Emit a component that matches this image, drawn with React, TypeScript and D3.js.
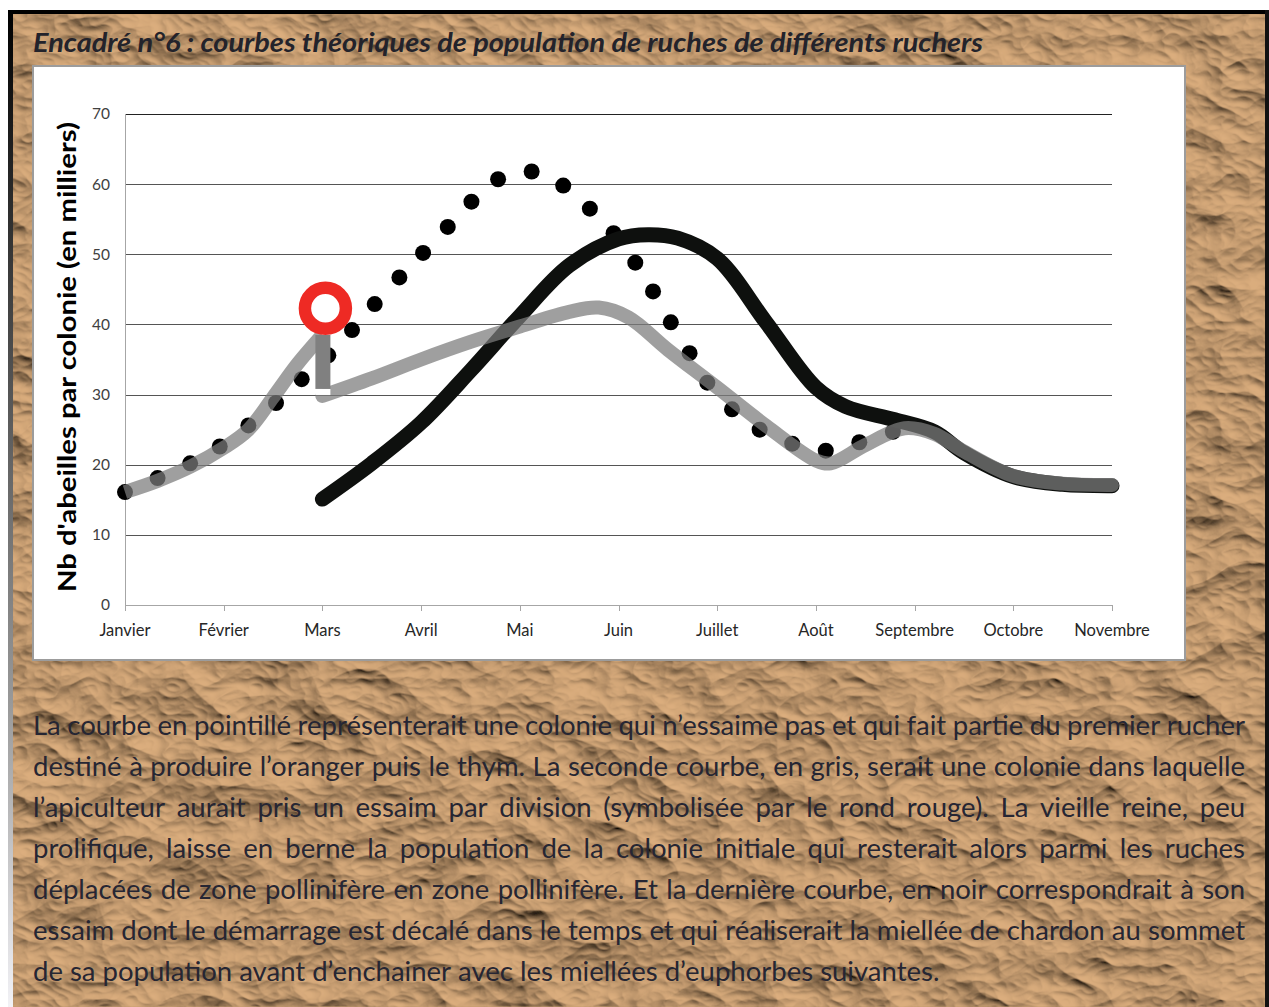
import React, { useMemo } from "react";
import * as d3 from "d3";

const months = ["Janvier", "Février", "Mars", "Avril", "Mai", "Juin", "Juillet", "Août", "Septembre", "Octobre", "Novembre"];
const yTicks = [0, 10, 20, 30, 40, 50, 60, 70];

// dotted series: colony that does not swarm (month index, thousands of bees)
const dottedSeries: [number, number][] = [
  [0.0, 16.1], [0.33, 18.1], [0.66, 20.2], [0.96, 22.6], [1.25, 25.6], [1.53, 28.8], [1.79, 32.2],
  [2.06, 35.6], [2.3, 39.2], [2.53, 42.9], [2.78, 46.7], [3.02, 50.2], [3.27, 53.9], [3.51, 57.5],
  [3.78, 60.7], [4.12, 61.8], [4.44, 59.8], [4.71, 56.5], [4.95, 53.0], [5.17, 48.8], [5.35, 44.7],
  [5.53, 40.3], [5.72, 35.9], [5.9, 31.7], [6.15, 27.9], [6.43, 25.0], [6.76, 23.0], [7.1, 22.0],
  [7.44, 23.2], [7.78, 24.7],
];

// grey series before the division
const greyBefore: [number, number][] = [
  [0, 16.1], [0.33, 17.7], [0.66, 19.7], [1, 22.4], [1.25, 25.0], [1.5, 29.6], [1.75, 34.4], [2, 38.5],
];
// grey series after the division
const greyAfter: [number, number][] = [
  [2, 29.8], [2.5, 32.3], [3, 35.0], [3.5, 37.5], [4, 39.7], [4.5, 41.8], [4.8, 42.4], [5.1, 41.0],
  [5.5, 36.4], [6, 31.0], [6.5, 25.5], [7, 20.6], [7.15, 20.2], [7.5, 22.8], [7.9, 25.2], [8.2, 24.4],
  [8.5, 21.9], [9, 18.4], [9.5, 17.3], [10, 17.1],
];
// black series: the swarm
const blackSeries: [number, number][] = [
  [2, 15.1], [2.5, 20.2], [3, 26.0], [3.5, 33.4], [4, 41.2], [4.5, 48.4], [5, 52.2], [5.3, 52.8],
  [5.6, 52.3], [6, 49.4], [6.5, 40.2], [7, 31.0], [7.3, 28.3], [7.8, 26.4], [8.2, 24.7], [8.5, 21.7],
  [9, 18.3], [9.5, 17.2], [10, 17.0],
];
const division: [number, number] = [2, 42.3];
const divisionDrop: [number, number] = [38.5, 30.8];

const titleText = "Encadré n°6 : courbes théoriques de population de ruches de différents ruchers";
const yTitle = "Nb d'abeilles par colonie (en milliers)";
const paragraph = [
  "La courbe en pointillé représenterait une colonie qui n’essaime pas et qui fait partie du premier rucher",
  "destiné à produire l’oranger puis le thym. La seconde courbe, en gris, serait une colonie dans laquelle",
  "l’apiculteur aurait pris un essaim par division (symbolisée par le rond rouge). La vieille reine, peu",
  "prolifique, laisse en berne la population de la colonie initiale qui resterait alors parmi les ruches",
  "déplacées de zone pollinifère en zone pollinifère. Et la dernière courbe, en noir correspondrait à son",
  "essaim dont le démarrage est décalé dans le temps et qui réaliserait la miellée de chardon au sommet",
  "de sa population avant d’enchainer avec les miellées d’euphorbes suivantes.",
];

const W = 1269, H = 1007;
const FONT = "Lato, 'Open Sans', sans-serif";

function layoutParagraph(left: number, right: number) {
  const canvas = document.createElement("canvas");
  const ctx = canvas.getContext("2d")!;
  const width = right - left;
  let fs = 27.5;
  const measure = () => {
    ctx.font = `${fs}px Lato`;
    return paragraph.map((line) => {
      const words = line.split(" ");
      const ws = words.map((w) => ctx.measureText(w).width);
      return { words, ws, total: ws.reduce((a, b) => a + b, 0) };
    });
  };
  let m = measure();
  while (fs > 16) {
    ctx.font = `${fs}px Lato`;
    const sp = ctx.measureText(" ").width * 0.85;
    const ok = m.every((l) => l.total + sp * (l.words.length - 1) <= width);
    if (ok) break;
    fs -= 0.25;
    m = measure();
  }
  ctx.font = `${fs}px Lato`;
  const space = ctx.measureText(" ").width;
  const out = m.map((l, i) => {
    const last = i === m.length - 1;
    const gap = last ? space : (width - l.total) / (l.words.length - 1);
    let x = left;
    return l.words.map((w, j) => {
      const px = x;
      x += l.ws[j] + gap;
      return { w, x: px };
    });
  });
  return { fs, lines: out };
}

export default function App() {
  const x = d3.scaleLinear().domain([0, 10]).range([125, 1112]);
  const y = d3.scaleLinear().domain([0, 70]).range([605, 114]);
  const line = d3
    .line<[number, number]>()
    .x((d) => x(d[0]))
    .y((d) => y(d[1]))
    .curve(d3.curveCatmullRom.alpha(0.5));

  const para = useMemo(() => layoutParagraph(33, 1245), []);

  const dropTop = y(divisionDrop[0]);
  const dropBottom = y(divisionDrop[1]);

  return (
    <svg width={W} height={H} style={{ position: "absolute", left: 0, top: 0, display: "block" }} fontFamily={FONT}>
      <defs>
        <filter id="paper" x="0" y="0" width="100%" height="100%">
          <feTurbulence type="turbulence" baseFrequency="0.009 0.014" numOctaves="4" seed="5" result="n" />
          <feDiffuseLighting in="n" surfaceScale="10" lightingColor="#dcae7e" result="l">
            <feDistantLight azimuth="120" elevation="46" />
          </feDiffuseLighting>
        </filter>
        <linearGradient id="leftEdge" x1="0" y1="0" x2="0" y2="1">
          <stop offset="0" stopColor="#000" />
          <stop offset="0.15" stopColor="#222" />
          <stop offset="0.7" stopColor="#9a9a9a" />
          <stop offset="1" stopColor="#f2f2f6" />
        </linearGradient>
      </defs>
      <rect x={0} y={0} width={W} height={H} fill="#fff" />
      <rect x={13} y={14} width={1252} height={H - 14} fill="#b8946c" filter="url(#paper)" />
      <rect x={8} y={10} width={1261} height={4} fill="#000" />
      <rect x={8} y={10} width={5} height={H - 10} fill="url(#leftEdge)" />
      <rect x={1265} y={10} width={4} height={H - 10} fill="#111" />

      <text x={33} y={52} fontSize={27} fontWeight="bold" fontStyle="italic" fill="#23232b" textLength={950} lengthAdjust="spacingAndGlyphs">
        {titleText}
      </text>

      {/* chart box */}
      <rect x={33} y={66} width={1152} height={594} fill="#fff" stroke="#9c9c9c" strokeWidth={2} />

      {/* grid */}
      {yTicks.filter((t) => t > 0).map((t) => (
        <line key={t} x1={x(0)} x2={x(10)} y1={Math.round(y(t)) + 0.5} y2={Math.round(y(t)) + 0.5} stroke={t === 70 ? "#222" : "#555"} strokeWidth={1} />
      ))}
      <line x1={x(0) + 0.5} x2={x(0) + 0.5} y1={y(70)} y2={y(0)} stroke="#a6a6a6" strokeWidth={1} />
      <line x1={x(0)} x2={x(10)} y1={Math.round(y(0)) + 0.5} y2={Math.round(y(0)) + 0.5} stroke="#a6a6a6" strokeWidth={1} />
      {months.map((m, i) => (
        <line key={m} x1={Math.round(x(i)) + 0.5} x2={Math.round(x(i)) + 0.5} y1={y(0)} y2={y(0) + 6} stroke="#a6a6a6" strokeWidth={1} />
      ))}
      {yTicks.map((t) => (
        <text key={t} x={110} y={y(t)} dy="0.35em" textAnchor="end" fontSize={15.5} fill="#404040">
          {t}
        </text>
      ))}
      {months.map((m, i) => (
        <text key={m} x={x(i)} y={636} textAnchor="middle" fontSize={16.5} fill="#262626">
          {m}
        </text>
      ))}
      <text transform={`translate(76,357) rotate(-90)`} textAnchor="middle" fontSize={25.5} fontWeight="bold" fill="#000" textLength={470} lengthAdjust="spacingAndGlyphs">
        {yTitle}
      </text>

      {/* series */}
      {dottedSeries.map((d, i) => (
        <circle key={i} cx={x(d[0])} cy={y(d[1])} r={8} fill="#000" />
      ))}
      <path d={line(blackSeries) || ""} fill="none" stroke="#0e100e" strokeWidth={15} strokeLinecap="round" />
      <path d={line(greyBefore) || ""} fill="none" stroke="#7b7b7b" strokeOpacity={0.73} strokeWidth={14} strokeLinecap="butt" />
      <path d={line(greyAfter) || ""} fill="none" stroke="#7b7b7b" strokeOpacity={0.73} strokeWidth={14} strokeLinecap="round" />
      <rect x={x(division[0]) - 7} y={dropTop} width={15} height={dropBottom - dropTop} fill="#808080" />
      <rect x={x(division[0]) - 7} y={dropBottom} width={15} height={6} fill="#fff" />
      <circle cx={x(division[0]) + 3} cy={y(division[1])} r={20.5} fill="#fff" stroke="#ee2a24" strokeWidth={12.5} />

      {/* paragraph */}
      {para.lines.map((ws, i) => (
        <text key={i} y={735 + i * 41} fontSize={para.fs} fill="#262633" fontFamily="Lato">
          {ws.map((w, j) => (
            <tspan key={j} x={w.x}>
              {w.w}
            </tspan>
          ))}
        </text>
      ))}
    </svg>
  );
}
